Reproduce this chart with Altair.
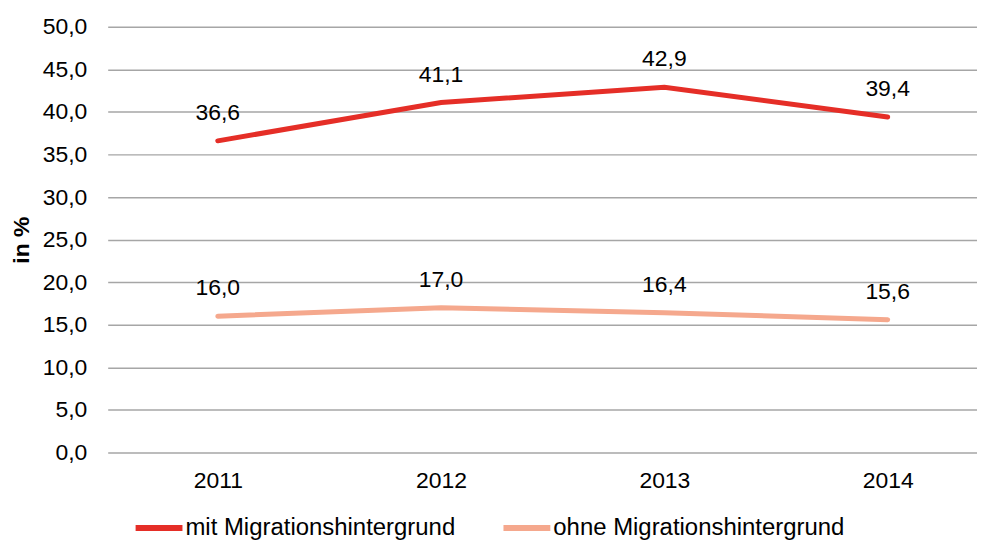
import altair as alt
import pandas as pd

years = [2011, 2012, 2013, 2014]
mit = [36.6, 41.1, 42.9, 39.4]
ohne = [16.0, 17.0, 16.4, 15.6]
series_names = ["mit Migrationshintergrund", "ohne Migrationshintergrund"]
colors = ["#E52E27", "#F5A88D"]

rows = []
for name, vals in zip(series_names, [mit, ohne]):
    for y, v in zip(years, vals):
        rows.append({"Jahr": y, "Wert": v, "Gruppe": name})
df = pd.DataFrame(rows)

FONT = "Liberation Sans"

x = alt.X("Jahr:Q",
          scale=alt.Scale(domain=[2010.507, 2014.40], nice=False, zero=False),
          axis=alt.Axis(values=years, labelExpr="datum.value", grid=False,
                        domain=False, ticks=False, labelPadding=17,
                        labelFontSize=23, labelFont=FONT, labelColor="black",
                        title=None))
y = alt.Y("Wert:Q",
          scale=alt.Scale(domain=[0, 50], nice=False),
          axis=alt.Axis(values=list(range(0, 51, 5)),
                        labelExpr="replace(format(datum.value, '.1f'), '.', ',')",
                        grid=True, gridColor="#A6A6A6", gridWidth=1.5,
                        domain=False, ticks=False, labelPadding=21,
                        labelFontSize=23, labelFont=FONT, labelColor="black",
                        title="in %", titleFont=FONT, titleFontSize=23,
                        titleFontWeight="bold", titleColor="black",
                        titleX=-86, titleY=213.5, titleBaseline="middle",
                        titleAngle=270))

color = alt.Color("Gruppe:N",
                  scale=alt.Scale(domain=series_names, range=colors),
                  legend=alt.Legend(orient="none", legendX=25, legendY=476,
                                    direction="horizontal", title=None,
                                    symbolType="stroke", symbolStrokeWidth=6,
                                    symbolSize=2209, labelFontSize=24,
                                    labelFont=FONT, labelColor="black",
                                    labelOffset=0, columnPadding=36,
                                    labelLimit=400))

base = alt.Chart(df)
lines = base.mark_line(strokeWidth=5, strokeCap="round").encode(x=x, y=y, color=color)
labels = base.transform_calculate(
    lab="replace(format(datum.Wert, '.1f'), '.', ',')"
).mark_text(dy=-28, baseline="middle", fontSize=23, font=FONT, color="black").encode(
    x="Jahr:Q", y="Wert:Q", text="lab:N")

chart = (lines + labels).properties(
    width=872, height=427,
    autosize=alt.AutoSizeParams(type="none"),
    padding={"left": 100, "top": 18, "right": 0, "bottom": 90},
).configure_view(stroke=None)

chart.save("out.html", embed_options={"renderer": "svg", "actions": False})
